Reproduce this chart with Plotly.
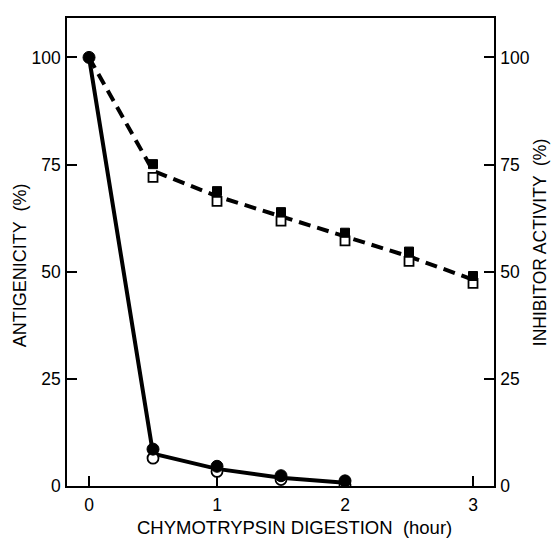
import plotly.graph_objects as go

# Data
hours_anti = [0, 0.5, 1, 1.5, 2]
anti_filled = [100, 8.6, 4.6, 2.4, 1.2]
anti_open = [100, 6.5, 3.4, 1.5, 0.3]

hours_inhib = [0, 0.5, 1, 1.5, 2, 2.5, 3]
inhib_filled = [100, 75.1, 68.8, 63.9, 59.1, 54.7, 49.0]
inhib_open = [100, 72.0, 66.4, 61.8, 57.2, 52.4, 47.3]

y_ticks = [0, 25, 50, 75, 100]
x_ticks = [0, 1, 2, 3]

anti_mean = [(a + b) / 2 for a, b in zip(anti_filled, anti_open)]
inhib_mean = [(a + b) / 2 for a, b in zip(inhib_filled, inhib_open)]

FONT = "Liberation Sans, Arial, sans-serif"

fig = go.Figure()

# dashed inhibitor line
fig.add_trace(go.Scatter(x=hours_inhib, y=inhib_mean, mode="lines",
                         line=dict(color="black", width=4, dash="12px,7px"),
                         yaxis="y2", hoverinfo="skip"))
# solid antigenicity line
fig.add_trace(go.Scatter(x=hours_anti, y=anti_mean, mode="lines",
                         line=dict(color="black", width=4), hoverinfo="skip"))
# open squares
fig.add_trace(go.Scatter(x=hours_inhib[1:], y=inhib_open[1:], mode="markers",
                         marker=dict(symbol="square", size=9, color="white",
                                     line=dict(color="black", width=1.8)),
                         yaxis="y2"))
# filled squares
fig.add_trace(go.Scatter(x=hours_inhib[1:], y=inhib_filled[1:], mode="markers",
                         marker=dict(symbol="square", size=9, color="black",
                                     line=dict(color="black", width=1)),
                         yaxis="y2"))
# open circles
fig.add_trace(go.Scatter(x=hours_anti[1:], y=anti_open[1:], mode="markers",
                         marker=dict(symbol="circle", size=11, color="white",
                                     line=dict(color="black", width=1.8))))
# filled circles
fig.add_trace(go.Scatter(x=hours_anti, y=anti_filled, mode="markers",
                         marker=dict(symbol="circle", size=12, color="black",
                                     line=dict(color="black", width=1))))

axis_common = dict(showline=True, linecolor="black", linewidth=1.6,
                   ticks="inside", ticklen=10, tickwidth=1.5, tickcolor="black",
                   showgrid=False, zeroline=False,
                   tickfont=dict(family=FONT, size=17.5, color="black"))

fig.update_layout(
    width=551, height=544,
    margin=dict(l=67, r=57, t=18, b=58),
    paper_bgcolor="white", plot_bgcolor="white",
    showlegend=False,
    font=dict(family=FONT, color="black"),
    xaxis=dict(range=[-0.172, 3.164], tickvals=x_ticks, mirror=True,
               ticklabelstandoff=2, **axis_common),
    yaxis=dict(range=[0, 109.2], tickvals=y_ticks, ticklabelstandoff=1,
               **axis_common),
    yaxis2=dict(range=[0, 109.2], tickvals=y_ticks, overlaying="y", side="right",
                ticklabelstandoff=1, **axis_common),
    annotations=[
        dict(text="CHYMOTRYPSIN DIGESTION  (hour)", x=0.532, y=-0.0897,
             xref="paper", yref="paper", xanchor="center", yanchor="middle",
             showarrow=False, font=dict(family=FONT, size=18.5, color="black")),
        dict(text="ANTIGENICITY  (%)", x=-0.110, y=0.472, textangle=-90,
             xref="paper", yref="paper", xanchor="center", yanchor="middle",
             showarrow=False, font=dict(family=FONT, size=18, color="black")),
        dict(text="INHIBITOR ACTIVITY  (%)", x=1.108, y=0.519, textangle=-90,
             xref="paper", yref="paper", xanchor="center", yanchor="middle",
             showarrow=False, font=dict(family=FONT, size=17.5, color="black")),
    ],
)

fig.write_html(
    "out.html",
    config={"displayModeBar": False},
    post_script="document.body.style.margin='0';document.body.style.overflow='hidden';",
)
